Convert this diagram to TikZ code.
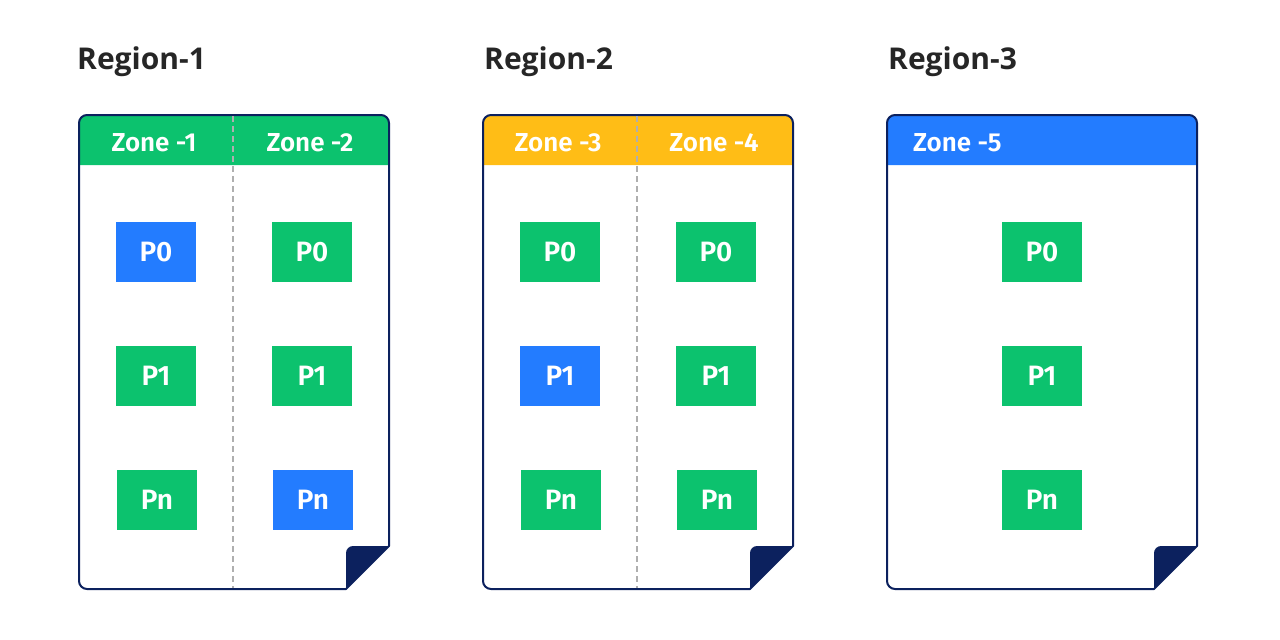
\documentclass[tikz,border=0pt]{standalone}
\usepackage{fontspec}
\setmainfont{Open Sans}
\newfontfamily\boxfont{Fira Sans}[UprightFont=* SemiBold]
\definecolor{navy}{RGB}{12,33,94}
\definecolor{zgreen}{RGB}{12,194,110}
\definecolor{zblue}{RGB}{35,124,255}
\definecolor{zyellow}{RGB}{255,189,22}
\definecolor{dgray}{RGB}{175,175,175}
\definecolor{ttl}{RGB}{38,38,38}
\tikzset{
  pbox/.style={minimum width=80pt, minimum height=60pt, inner sep=0pt, text=white, font=\boxfont\fontsize{28}{32}\selectfont},
  zlabel/.style={text=white, inner sep=0pt, font=\boxfont\fontsize{26}{30}\selectfont},
  rtitle/.style={anchor=base west, inner sep=0pt, text=ttl, font=\bfseries\fontsize{30}{36}\selectfont},
  outline/.style={draw=navy, line width=2pt, line join=round},
  divider/.style={draw=dgray, line width=1.5pt, dash pattern=on 6pt off 4pt},
}
\begin{document}
\begin{tikzpicture}[x=1pt,y=-1pt]
\useasboundingbox (0,0) rectangle (1280,640);
% titles
\node[rtitle] (t1) at (77,69) {Region-1};
\node[rtitle] (t2) at (484,69) {Region-2};
\node[rtitle] (t3) at (888,69) {Region-3};
% panels
\foreach \x/\hc/\i in {79/zgreen/1, 483/zyellow/2, 887/zblue/3}{
  \begin{scope}[shift={(\x,0)}]
    \fill[\hc] (0,165) [rounded corners=8pt]-- (0,115) -- (310,115) [sharp corners]-- (310,165) -- cycle;
    \fill[navy, line join=round] (310,546) [rounded corners=7pt]-- (267,546) [sharp corners]-- (267,589) -- cycle;
    \draw[outline] (267,589) [rounded corners=8pt]-- (0,589) -- (0,115) -- (310,115) [sharp corners]-- (310,546) -- cycle;
  \end{scope}
}
\draw[divider] (233,116) -- (233,588);
\draw[divider] (637,116) -- (637,588);
% zone labels
\node[zlabel] (z1) at (154,143) {Zone -1};
\node[zlabel] (z2) at (310,143) {Zone -2};
\node[zlabel] (z3) at (558,143) {Zone -3};
\node[zlabel] (z4) at (714,143) {Zone -4};
\node[zlabel, anchor=west] (z5) at (913,143) {Zone -5};
% boxes region 1
\node[pbox, fill=zblue]  (a0) at (156,252) {P0};
\node[pbox, fill=zgreen] (a1) at (156,376) {P1};
\node[pbox, fill=zgreen] (an) at (157,500) {Pn};
\node[pbox, fill=zgreen] (b0) at (312,252) {P0};
\node[pbox, fill=zgreen] (b1) at (312,376) {P1};
\node[pbox, fill=zblue]  (bn) at (313,500) {Pn};
% region 2
\node[pbox, fill=zgreen] (c0) at (560,252) {P0};
\node[pbox, fill=zblue]  (c1) at (560,376) {P1};
\node[pbox, fill=zgreen] (cn) at (561,500) {Pn};
\node[pbox, fill=zgreen] (d0) at (716,252) {P0};
\node[pbox, fill=zgreen] (d1) at (716,376) {P1};
\node[pbox, fill=zgreen] (dn) at (717,500) {Pn};
% region 3
\node[pbox, fill=zgreen] (e0) at (1042,252) {P0};
\node[pbox, fill=zgreen] (e1) at (1042,376) {P1};
\node[pbox, fill=zgreen] (en) at (1042,500) {Pn};
\end{tikzpicture}
\end{document}
